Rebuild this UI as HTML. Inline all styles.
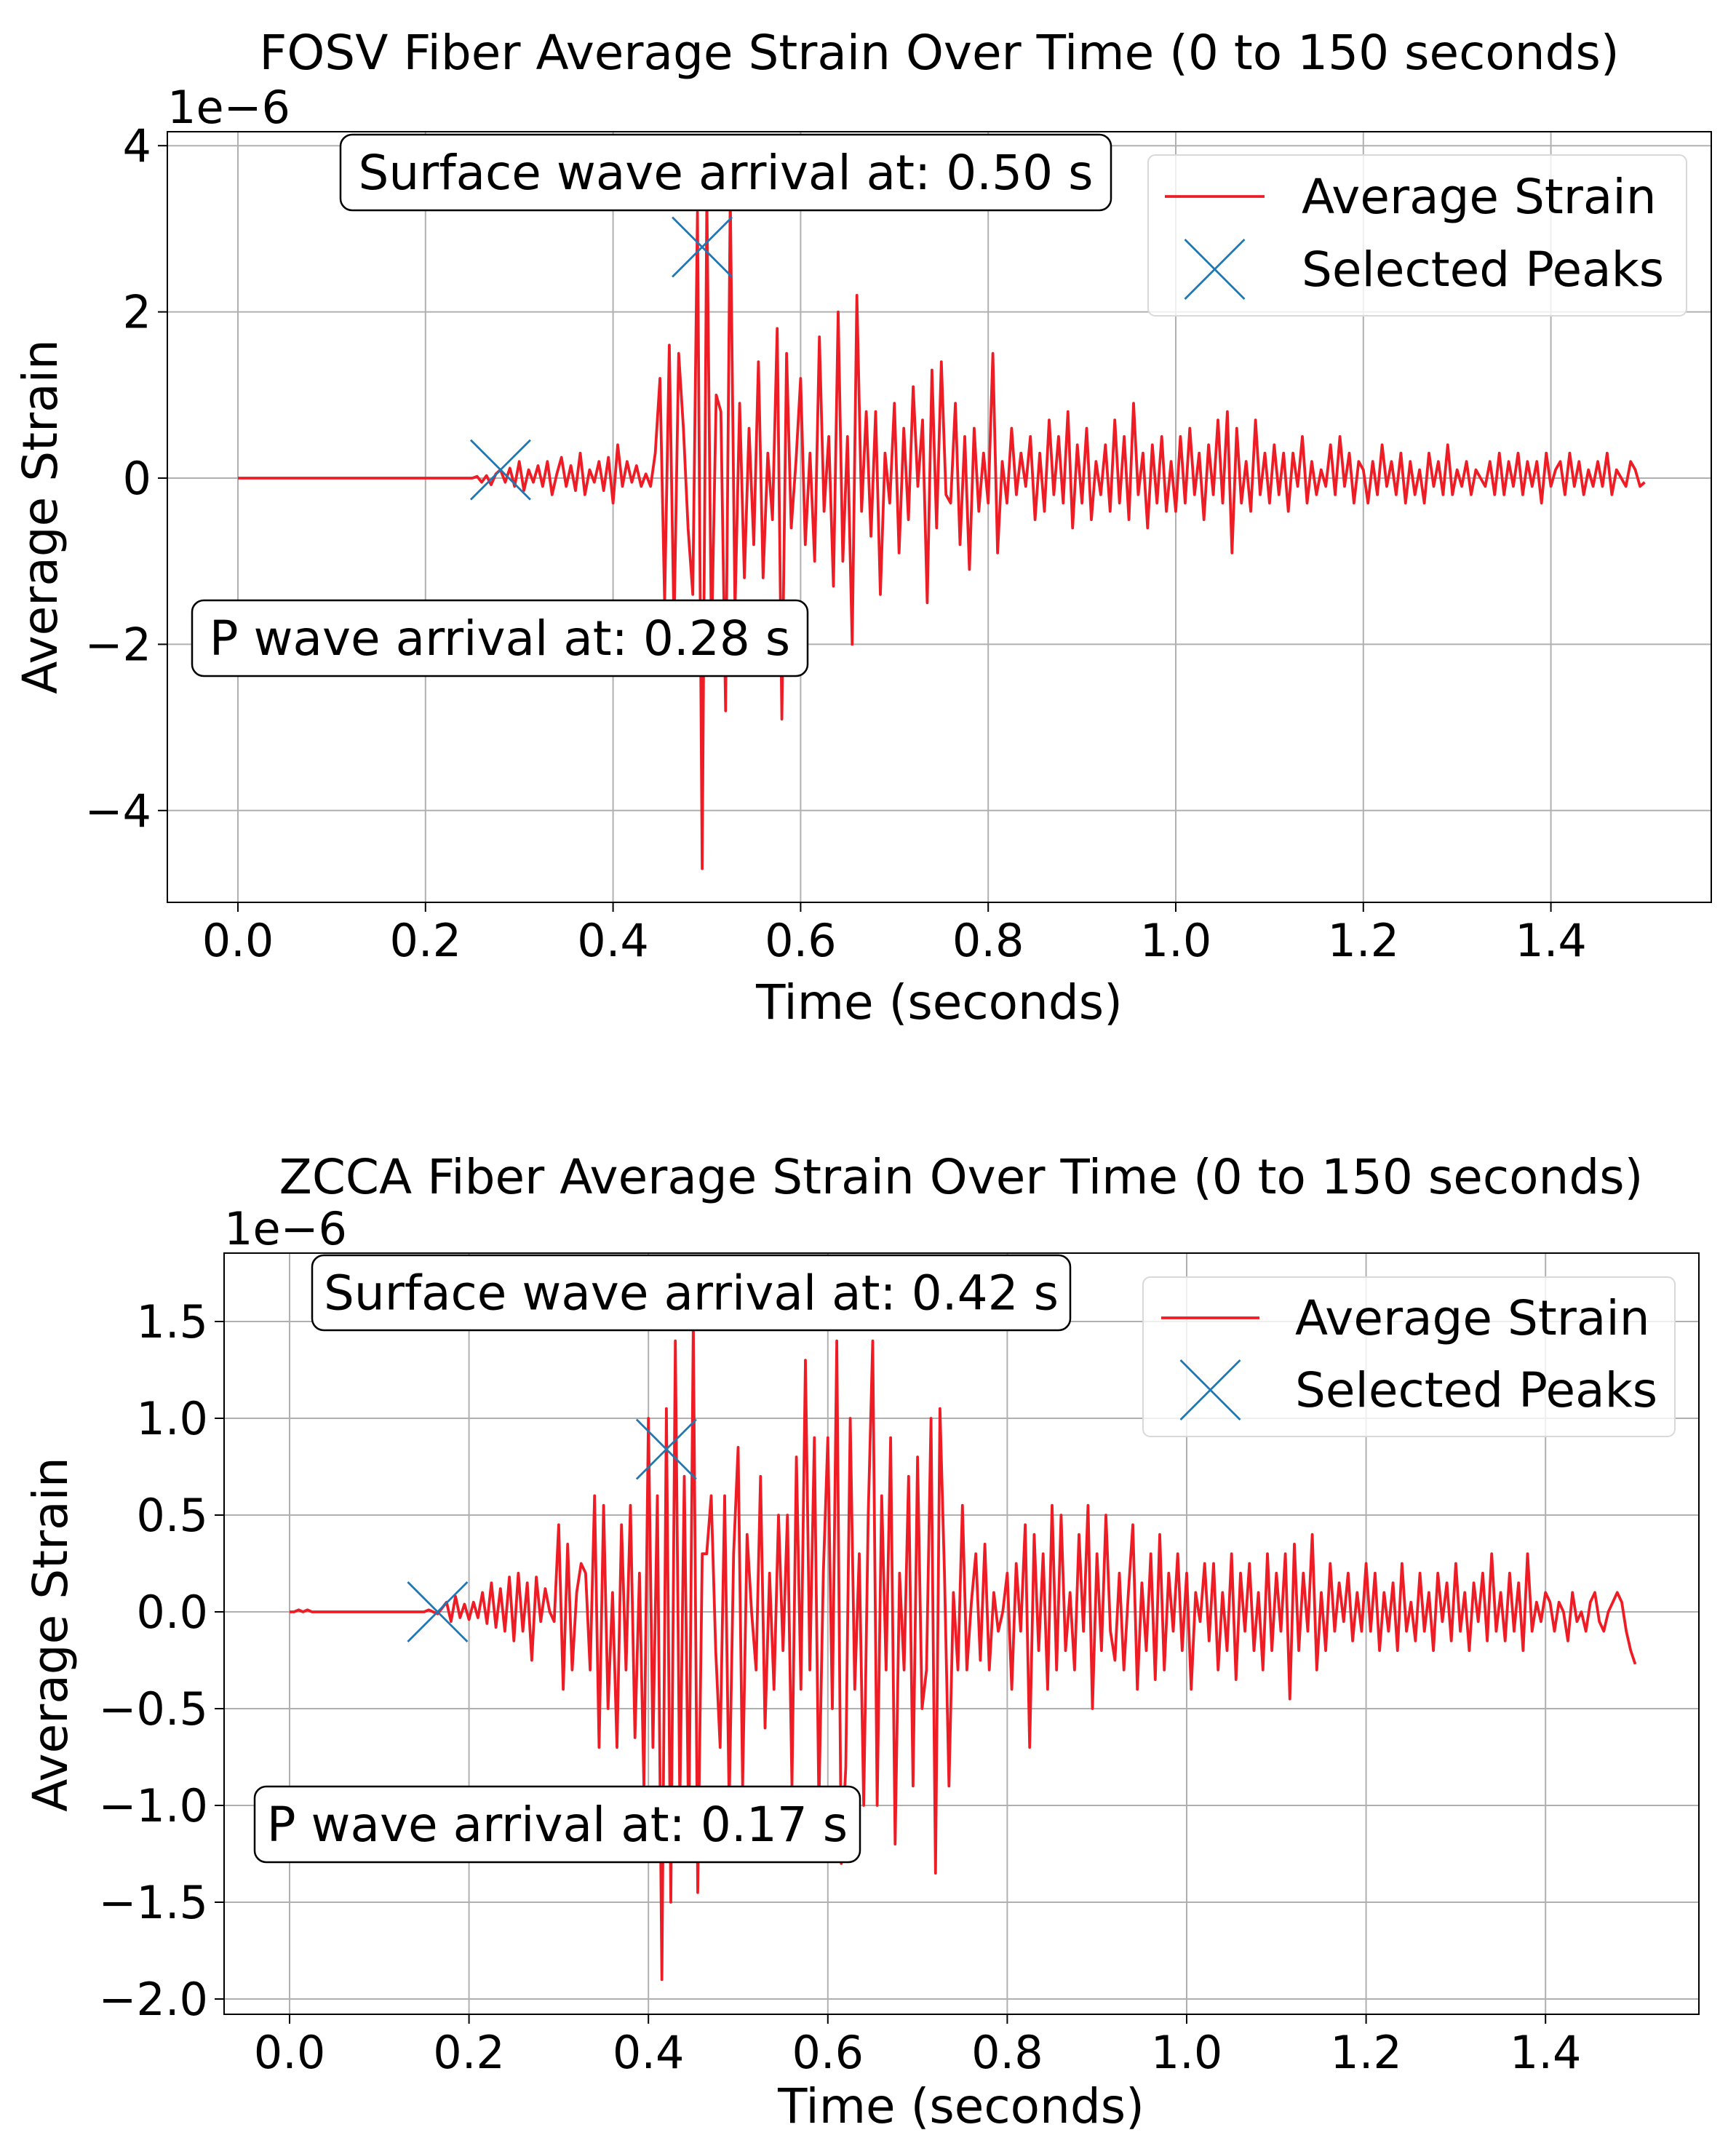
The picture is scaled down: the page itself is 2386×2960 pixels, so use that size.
<!DOCTYPE html>
<html><head><meta charset="utf-8"><style>
html,body{margin:0;padding:0;background:#fff}
svg{display:block;font-family:"DejaVu Sans","Liberation Sans",sans-serif}
</style></head><body>
<svg id="chart" width="2386" height="2960" viewBox="0 0 2386 2960" xmlns="http://www.w3.org/2000/svg"></svg>
<script>
const dt = 0.005;
const fosvStrain = [
0,0,0,0,0,0,0,0,0,0, 0,0,0,0,0,0,0,0,0,0, 0,0,0,0,0,0,0,0,0,0, 0,0,0,0,0,0,0,0,0,0, 0,0,0,0,0,0,0,0,0,0,
0,0.02,-0.05,0.03,-0.08,0.05,0.1,-0.05,0.12,-0.1,
0.2,-0.15,0.1,-0.05,0.15,-0.1,0.2,-0.2,0.05,0.25,
-0.1,0.15,-0.15,0.3,-0.2,0.1,-0.05,0.2,-0.15,0.25,
-0.3,0.4,-0.1,0.2,-0.05,0.15,-0.1,0.05,-0.1,0.3,
1.2,-1.5,1.6,-1.8,1.5,0.6,-0.6,-1.4,3.2,-4.7,
3.4,-2.0,1.0,0.8,-2.8,3.4,-1.6,0.9,-1.2,0.6,
-0.8,1.4,-1.2,0.3,-0.5,1.8,-2.9,1.5,-0.6,0.2,
1.2,-0.8,0.3,-1.0,1.7,-0.4,0.5,-1.3,2.0,-1.0,
0.5,-2.0,2.2,-0.4,0.8,-0.7,0.8,-1.4,0.3,-0.3,
0.9,-0.9,0.6,-0.5,1.1,-0.1,0.7,-1.5,1.3,-0.6,
1.4,-0.2,-0.3,0.9,-0.8,0.5,-1.1,0.6,-0.4,0.3,
-0.3,1.5,-0.9,0.2,-0.3,0.6,-0.2,0.3,-0.1,0.5,
-0.5,0.3,-0.4,0.7,-0.2,0.5,-0.3,0.8,-0.6,0.4,
-0.3,0.6,-0.5,0.2,-0.2,0.4,-0.4,0.7,-0.3,0.5,
-0.5,0.9,-0.2,0.3,-0.6,0.4,-0.3,0.5,-0.4,0.2,
-0.4,0.5,-0.3,0.6,-0.2,0.3,-0.5,0.4,-0.2,0.7,
-0.3,0.8,-0.9,0.6,-0.3,0.2,-0.4,0.7,-0.2,0.3,
-0.3,0.4,-0.2,0.3,-0.4,0.3,-0.1,0.5,-0.3,0.2,
-0.2,0.1,-0.1,0.4,-0.2,0.5,-0.1,0.3,-0.3,0.2,
0.1,-0.3,0.2,-0.2,0.4,-0.1,0.2,-0.2,0.3,-0.3,
0.2,-0.2,0.1,-0.3,0.3,-0.1,0.2,-0.2,0.4,-0.2,
0.1,-0.1,0.2,-0.2,0.1,0.0,-0.1,0.2,-0.2,0.3,
-0.2,0.2,-0.1,0.3,-0.2,0.2,-0.1,0.2,-0.3,0.3,
-0.1,0.1,0.2,-0.2,0.3,-0.1,0.2,-0.2,0.1,-0.1,
0.2,-0.1,0.3,-0.2,0.1,0.0,-0.1,0.2,0.1,-0.1,-0.05];
const zccaStrain = [
0,0,0.01,0,0.01,0,0,0,0,0, 0,0,0,0,0,0,0,0,0,0, 0,0,0,0,0,0,0,0,0,0,
0,0.01,0,-0.01,0.02,0.05,-0.05,0.08,-0.03,0.04,
-0.04,0.05,-0.03,0.1,-0.06,0.15,-0.08,0.12,-0.1,0.18,
-0.15,0.2,-0.1,0.15,-0.25,0.18,-0.05,0.12,0.0,-0.05,
0.45,-0.4,0.35,-0.3,0.1,0.25,0.2,-0.3,0.6,-0.7,
0.55,-0.5,0.1,-0.7,0.45,-0.3,0.55,-0.65,0.2,-0.9,
1.0,-0.7,0.6,-1.9,1.05,-1.5,1.4,-1.0,0.7,-1.2,
1.5,-1.45,0.3,0.3,0.6,-0.2,-0.7,0.6,-1.0,0.3,
0.85,-0.9,0.4,0.0,-0.3,0.7,-0.6,0.2,-0.4,0.5,
-0.2,0.5,-0.9,0.8,-0.4,1.3,-0.3,0.9,-1.0,0.2,
0.9,-0.5,1.4,-1.3,-0.8,1.0,-0.4,0.3,-1.0,0.5,
1.4,-1.0,0.6,-0.3,0.9,-1.2,0.2,-0.3,0.7,-0.9,
0.8,-0.5,-0.3,1.0,-1.35,1.05,0.2,-0.9,0.1,-0.3,
0.55,-0.3,0.05,0.3,-0.25,0.35,-0.3,0.1,-0.1,0.0,
0.2,-0.4,0.25,-0.1,0.45,-0.7,0.4,-0.2,0.3,-0.4,
0.55,-0.3,0.5,-0.2,0.1,-0.3,0.4,-0.1,0.55,-0.5,
0.3,-0.2,0.5,-0.1,-0.25,0.2,-0.3,0.1,0.45,-0.4,
0.15,-0.2,0.3,-0.35,0.4,-0.3,0.2,-0.1,0.3,-0.2,
0.2,-0.4,0.1,-0.05,0.25,-0.15,0.25,-0.3,0.1,-0.2,
0.3,-0.35,0.2,-0.1,0.25,-0.2,0.1,-0.3,0.3,-0.2,
0.2,-0.1,0.3,-0.45,0.35,-0.2,0.2,-0.1,0.4,-0.3,
0.1,-0.2,0.25,-0.1,0.15,-0.05,0.2,-0.15,0.1,-0.1,
0.25,-0.1,0.2,-0.2,0.1,-0.1,0.15,-0.2,0.25,-0.1,
0.05,-0.15,0.2,-0.1,0.1,-0.2,0.2,-0.05,0.15,-0.15,
0.25,-0.1,0.1,-0.2,0.15,-0.05,0.2,-0.15,0.3,-0.1,
0.1,-0.15,0.2,-0.1,0.15,-0.2,0.3,-0.1,0.05,-0.05,
0.1,0.05,-0.1,0.05,0.0,-0.15,0.1,-0.05,0.0,-0.1,
0.05,0.1,-0.05,-0.1,0.0,0.05,0.1,0.05,-0.1,-0.2,-0.27];
const fosvPeakTimes = [0.28, 0.495];
const fosvPeakValues = [0.1, 2.78];
const zccaPeakTimes = [0.165, 0.42];
const zccaPeakValues = [0.0, 0.84];
const xTicks = [0.0,0.2,0.4,0.6,0.8,1.0,1.2,1.4];
const fosvYTicks = [-4,-2,0,2,4];
const fosvYLabels = ["\u22124","\u22122","0","2","4"];
const zccaYTicks = [-2.0,-1.5,-1.0,-0.5,0.0,0.5,1.0,1.5];
const zccaYLabels = ["\u22122.0","\u22121.5","\u22121.0","\u22120.5","0.0","0.5","1.0","1.5"];

const NS = "http://www.w3.org/2000/svg";
const svg = document.getElementById('chart');
function mk(tag, attrs, parent){
  const e = document.createElementNS(NS, tag);
  for (const k in attrs) e.setAttribute(k, attrs[k]);
  (parent||svg).appendChild(e);
  return e;
}
function txt(str, x, y, size, anchor, parent, extra){
  const t = mk('text', Object.assign({x:x, y:y, 'font-size':size, 'text-anchor':anchor||'middle', fill:'#000'}, extra||{}), parent);
  t.textContent = str;
  return t;
}
const FS = 66, TS = 62;

function panel(cfg){
  const g = mk('g', {});
  
  
  const X = t => cfg.x0 + t*cfg.xs;
  const Y = v => cfg.y0 - v*cfg.ys;
  xTicks.forEach(t => {
    const l = mk('line', {x1:X(t), x2:X(t), y1:cfg.top, y2:cfg.bot, stroke:'#b0b0b0', 'stroke-width':2}, g);
    
    
  });
  cfg.yTicks.forEach(v => {
    const l = mk('line', {x1:cfg.left, x2:cfg.right, y1:Y(v), y2:Y(v), stroke:'#b0b0b0', 'stroke-width':2}, g);
    
    
  });
  const d = cfg.data.map((v,i) => (i?'L':'M') + X(i*dt).toFixed(1) + ',' + Y(v).toFixed(1)).join('');
  const clip = mk('clipPath', {id:cfg.name+'-clip'}, g);
  mk('rect', {x:cfg.left, y:cfg.top, width:cfg.right-cfg.left, height:cfg.bot-cfg.top}, clip);
  const p = mk('path', {d:d, fill:'none', stroke:'#ee1c25', 'stroke-width':3.8, 'stroke-linejoin':'round', 'clip-path':'url(#'+cfg.name+'-clip)'}, g);
  
  
  cfg.peakT.forEach((t,i) => {
    const cx = X(t), cy = Y(cfg.peakV[i]), r = 41;
    const m = mk('path', {d:`M${cx-r},${cy-r}L${cx+r},${cy+r}M${cx-r},${cy+r}L${cx+r},${cy-r}`, stroke:'#1f77b4', 'stroke-width':2.8, fill:'none'}, g);
    
    
  });
  const f = mk('rect', {x:cfg.left, y:cfg.top, width:cfg.right-cfg.left, height:cfg.bot-cfg.top, fill:'none', stroke:'#000', 'stroke-width':2}, g);
  
  
  xTicks.forEach(t => {
    mk('line', {x1:X(t), x2:X(t), y1:cfg.bot, y2:cfg.bot+13, stroke:'#000', 'stroke-width':2}, g);
    const lb = txt(t.toFixed(1), X(t), cfg.bot+74, TS, 'middle', g);
    
    
  });
  cfg.yTicks.forEach((v,i) => {
    mk('line', {x1:cfg.left-13, x2:cfg.left, y1:Y(v), y2:Y(v), stroke:'#000', 'stroke-width':2}, g);
    const lb = txt(cfg.yLabels[i], cfg.left-22, Y(v)+22, TS, 'end', g);
    
    
  });
  const ot = txt('1e\u22126', cfg.left, cfg.top-12, TS, 'start', g);
  
  
  const ti = txt(cfg.title, cfg.titleX, cfg.titleY, FS, 'middle', g);
  
  
  const xl = txt('Time (seconds)', cfg.xlX, cfg.xlY, FS, 'middle', g);
  
  
  const yl = txt('Average Strain', 0, 0, FS, 'middle', g, {transform:`translate(${cfg.ylX},${cfg.ylY}) rotate(-90)`});
  
  
  cfg.boxes.forEach(b => {
    const bg = mk('g', {}, g);
    
    
    mk('rect', {x:b.x, y:b.y, width:b.w, height:b.h, rx:16, fill:'#fff', stroke:'#000', 'stroke-width':2.5}, bg);
    txt(b.text, b.x + b.w/2, b.y + b.h/2 + 23, FS, 'middle', bg);
  });
  const L = cfg.legend;
  const lg = mk('g', {}, g);
  
  
  mk('rect', {x:L.x, y:L.y, width:L.w, height:L.h, rx:10, fill:'#fff', 'fill-opacity':0.8, stroke:'#d9d9d9', 'stroke-width':2}, lg);
  mk('line', {x1:L.lx1, x2:L.lx2, y1:L.y1, y2:L.y1, stroke:'#ee1c25', 'stroke-width':3.8}, lg);
  const e1 = txt('Average Strain', L.tx, L.y1+23, FS, 'start', lg);
  
  
  const mx = (L.lx1+L.lx2)/2, my = L.y2, r = 41;
  mk('path', {d:`M${mx-r},${my-r}L${mx+r},${my+r}M${mx-r},${my+r}L${mx+r},${my-r}`, stroke:'#1f77b4', 'stroke-width':2.8}, lg);
  const e2 = txt('Selected Peaks', L.tx, L.y2+23, FS, 'start', lg);
  
  
}

panel({name:'fosv-panel', data:fosvStrain, peakT:fosvPeakTimes, peakV:fosvPeakValues,
  left:230, right:2352, top:181, bot:1240, x0:327, xs:1289, y0:657, ys:114.2,
  yTicks:fosvYTicks, yLabels:fosvYLabels,
  title:'FOSV Fiber Average Strain Over Time (0 to 150 seconds)', titleX:1291, titleY:95,
  xlX:1291, xlY:1400, ylX:78, ylY:710,
  boxes:[{name:'surface-wave-annotation', text:'Surface wave arrival at: 0.50 s', x:468, y:185, w:1059, h:104},
         {name:'p-wave-annotation', text:'P wave arrival at: 0.28 s', x:264, y:825, w:846, h:104}],
  legend:{x:1578, y:213, w:740, h:221, lx1:1601, lx2:1738, y1:270, y2:370, tx:1789}});

panel({name:'zcca-panel', data:zccaStrain, peakT:zccaPeakTimes, peakV:zccaPeakValues,
  left:308, right:2335, top:1722, bot:2768, x0:398, xs:1233, y0:2215, ys:266,
  yTicks:zccaYTicks, yLabels:zccaYLabels,
  title:'ZCCA Fiber Average Strain Over Time (0 to 150 seconds)', titleX:1321, titleY:1640,
  xlX:1321, xlY:2917, ylX:92, ylY:2246,
  boxes:[{name:'surface-wave-annotation', text:'Surface wave arrival at: 0.42 s', x:429, y:1725, w:1042, h:103},
         {name:'p-wave-annotation', text:'P wave arrival at: 0.17 s', x:350, y:2455, w:832, h:104}],
  legend:{x:1571, y:1755, w:731, h:219, lx1:1596, lx2:1731, y1:1811, y2:1910, tx:1780}});
</script>
</body></html>
